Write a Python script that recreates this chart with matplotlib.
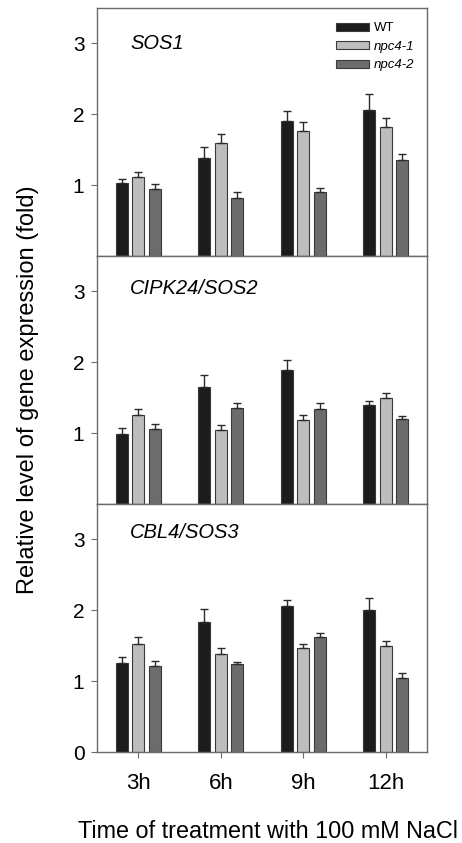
import matplotlib
matplotlib.use("Agg")
import matplotlib.pyplot as plt
import matplotlib.patches as mpatches
import numpy as np

plt.rcParams['font.family'] = ['Liberation Sans', 'DejaVu Sans']

times = ["3h", "6h", "9h", "12h"]
genotypes = ["WT", "npc4-1", "npc4-2"]
genes = ["SOS1", "CIPK24/SOS2", "CBL4/SOS3"]

# SOS1
sos1_wt = [1.03, 1.39, 1.90, 2.06]
sos1_wt_err = [0.06, 0.15, 0.14, 0.22]
sos1_n1 = [1.11, 1.59, 1.77, 1.82]
sos1_n1_err = [0.07, 0.13, 0.12, 0.13]
sos1_n2 = [0.95, 0.82, 0.90, 1.35]
sos1_n2_err = [0.07, 0.09, 0.06, 0.09]

# CIPK24/SOS2
sos2_wt = [0.99, 1.65, 1.89, 1.40]
sos2_wt_err = [0.08, 0.17, 0.14, 0.05]
sos2_n1 = [1.26, 1.04, 1.19, 1.50]
sos2_n1_err = [0.08, 0.07, 0.06, 0.07]
sos2_n2 = [1.06, 1.36, 1.34, 1.20]
sos2_n2_err = [0.07, 0.06, 0.09, 0.04]

# CBL4/SOS3
sos3_wt = [1.26, 1.84, 2.06, 2.00]
sos3_wt_err = [0.08, 0.18, 0.09, 0.18]
sos3_n1 = [1.53, 1.39, 1.47, 1.50]
sos3_n1_err = [0.10, 0.08, 0.06, 0.07]
sos3_n2 = [1.22, 1.24, 1.62, 1.04]
sos3_n2_err = [0.06, 0.03, 0.06, 0.07]

panels = [
    ([sos1_wt, sos1_n1, sos1_n2], [sos1_wt_err, sos1_n1_err, sos1_n2_err]),
    ([sos2_wt, sos2_n1, sos2_n2], [sos2_wt_err, sos2_n1_err, sos2_n2_err]),
    ([sos3_wt, sos3_n1, sos3_n2], [sos3_wt_err, sos3_n1_err, sos3_n2_err]),
]

colors = ["#1c1c1c", "#bdbdbd", "#6c6c6c"]
edge = "#3a3a3a"
frame = "#6a6a6a"
title_y = [0.855, 0.867, 0.887]

fig = plt.figure(figsize=(4.62, 8.43), dpi=100)
left, right = 97 / 462, 427 / 462
top_px, bot_px = 8, 752
h = (bot_px - top_px) / 3 / 843

x = np.arange(len(times))
offsets = [-0.2, 0.0, 0.2]
width = 0.15

axes = []
for i, (vals, errs) in enumerate(panels):
    bottom = 1 - (top_px / 843) - h * (i + 1)
    ax = fig.add_axes([left, bottom, right - left, h])
    axes.append(ax)
    for j in range(3):
        ax.bar(x + offsets[j], vals[j], width, color=colors[j], edgecolor=edge,
               linewidth=0.8, label=genotypes[j], zorder=2)
        ax.errorbar(x + offsets[j], vals[j], yerr=[np.zeros(len(times)), errs[j]],
                    fmt='none', ecolor="#2a2a2a", elinewidth=1.0, capsize=3,
                    capthick=1.0, zorder=3)
    ax.set_xlim(-0.5, 3.5)
    ax.set_ylim(0, 3.5)
    if i < 2:
        ax.set_yticks([1, 2, 3])
        ax.set_xticks(x)
        ax.set_xticklabels([])
    else:
        ax.set_yticks([0, 1, 2, 3])
        ax.set_xticks(x)
        ax.set_xticklabels(times, fontsize=16)
    ax.tick_params(axis='y', direction='out', length=4, width=0.8, colors=frame,
                   labelcolor='black', labelsize=15, pad=5)
    ax.tick_params(axis='x', direction='out', length=4, width=0.8, colors=frame,
                   labelcolor='black', pad=11)
    for sp in ax.spines.values():
        sp.set_color(frame)
        sp.set_linewidth(1.0)
    ax.text(0.1, title_y[i], genes[i], transform=ax.transAxes, fontsize=14.5,
            style='italic', va='center', ha='left')

handles = [mpatches.Patch(facecolor=colors[j], edgecolor=edge, linewidth=0.8)
           for j in range(3)]
leg = axes[0].legend(handles, genotypes, loc='upper right',
                     bbox_to_anchor=(0.99, 0.98), frameon=False, fontsize=9.5,
                     handlelength=2.5, handleheight=0.55, labelspacing=0.5,
                     handletextpad=0.35, borderaxespad=0.3)
for t in leg.get_texts()[1:]:
    t.set_style('italic')

fig.text(268 / 462, 1 - 832 / 843, "Time of treatment with 100 mM NaCl",
         ha='center', va='center', fontsize=16.8)
fig.text(28 / 462, 1 - 390 / 843, "Relative level of gene expression (fold)",
         ha='center', va='center', rotation=90, fontsize=17)

fig.savefig("out.png", dpi=100)
